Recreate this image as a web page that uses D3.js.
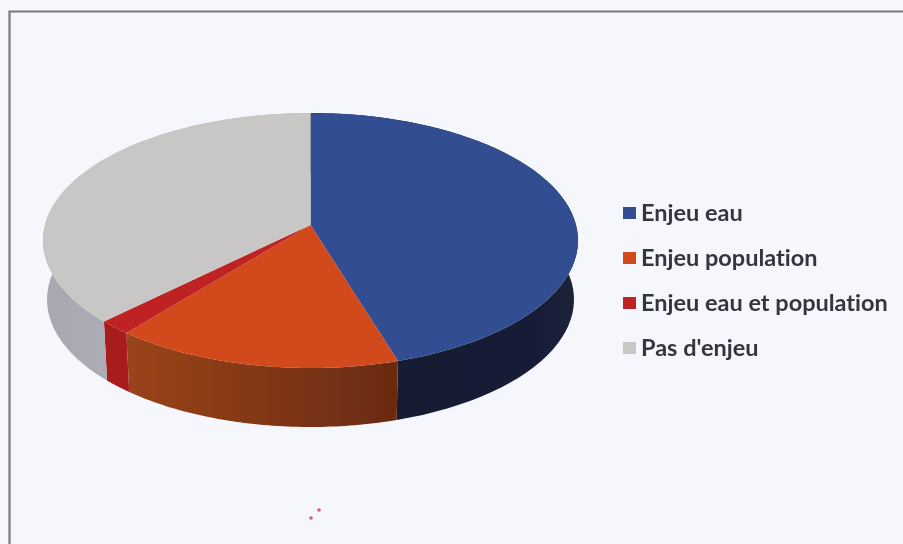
<!DOCTYPE html>
<html lang="fr">
<head>
<meta charset="UTF-8">
<title>Enjeux</title>
<script src="https://d3js.org/d3.v7.min.js"></script>
<style>
  html, body { margin: 0; padding: 0; background: #f5f7fc; }
  svg { display: block; }
  text { font-variant-ligatures: none; }
</style>
</head>
<body>
<div class="canvas"></div>
<script>
const categories = ['Enjeu eau', 'Enjeu population', 'Enjeu eau et population', "Pas d'enjeu"];
const values = [45.3, 15.5, 1.8, 37.4];
const topColors = ['#304d91', '#d2481b', '#bf2320', '#c9c7c6'];
const wallColors = [['#1a2038', '#151a2e'], ['#6a2a11', '#9a441a'], ['#a81f1e', '#a81f1e'], ['#b8b6bf', '#a9a8b2']];

const width = 903;
const height = 544;
const [cx, cy] = [310.5, 225];
// perspective of the disc: far edge 112px above the apex, near edge 143px below
const [R, H, k] = [265.5, 125.6, 0.1216];
const depth = 59;
const shrink = 0.985;

const svg = d3.select('.canvas').append('svg')
  .attr('width', width)
  .attr('height', height);

const defs = svg.append('defs');
defs.append('filter').attr('id', 'scan')
  .attr('filterUnits', 'userSpaceOnUse')
  .attr('x', 0).attr('y', 0)
  .attr('width', width).attr('height', height)
  .append('feGaussianBlur').attr('stdDeviation', 0.6);

const page = svg.append('g').attr('filter', 'url(#scan)');

// the frame is cut off by the scan on the right and at the bottom
page.append('path')
  .attr('d', `M9.5 ${height}V11.5H${width}`)
  .attr('fill', 'none')
  .attr('stroke', '#777983')
  .attr('stroke-width', 2.2);

const arcs = d3.pie().sort(null)(values);

const project = (a) => {
  const u = Math.sin(a), v = -Math.cos(a), w = 1 - k * v;
  return [R * u / w, H * v / w];
};
const onTop = (a) => { const [x, y] = project(a); return [cx + x, cy + y]; };
const onBottom = (a) => { const [x, y] = project(a); return [cx + x * shrink, cy + y + depth]; };
const steps = (d) => d3.range(0, 61).map(i => d.startAngle + (d.endAngle - d.startAngle) * i / 60);
const line = d3.line();

arcs.forEach((d, i) => {
  const g = defs.append('linearGradient').attr('id', 'wall' + i);
  g.append('stop').attr('offset', '0%').attr('stop-color', wallColors[i][1]);
  g.append('stop').attr('offset', '100%').attr('stop-color', wallColors[i][0]);
});

const pie = page.append('g');

pie.selectAll('path.wall').data(arcs).enter()
  .append('path')
  .attr('class', 'wall')
  .attr('fill', (d, i) => `url(#wall${i})`)
  .attr('d', d => {
    const a = steps(d);
    return line(a.map(onTop).concat(a.slice().reverse().map(onBottom))) + 'Z';
  });

pie.selectAll('path.top').data(arcs).enter()
  .append('path')
  .attr('class', 'top')
  .attr('fill', (d, i) => topColors[i])
  .attr('d', d => line([[cx, cy]].concat(steps(d).map(onTop))) + 'Z');

const legend = page.append('g');
const legendY = d3.scalePoint().domain(categories).range([213, 348]);

legend.selectAll('rect').data(categories).enter()
  .append('rect')
  .attr('x', 623)
  .attr('y', d => legendY(d) - 6)
  .attr('width', 13)
  .attr('height', 12)
  .attr('fill', (d, i) => topColors[i]);

legend.selectAll('text').data(categories).enter()
  .append('text')
  .attr('x', 641)
  .attr('y', d => legendY(d))
  .attr('dy', '0.35em')
  .attr('font-family', 'Lato')
  .attr('font-weight', 700)
  .attr('font-size', 23.5)
  .attr('fill', '#34363f')
  .text(d => d);

// two specks of dirt on the scan
page.selectAll('circle').data([[319, 510], [311, 518]]).enter()
  .append('circle')
  .attr('cx', d => d[0])
  .attr('cy', d => d[1])
  .attr('r', 1.8)
  .attr('fill', '#c8607c');
</script>
</body>
</html>
